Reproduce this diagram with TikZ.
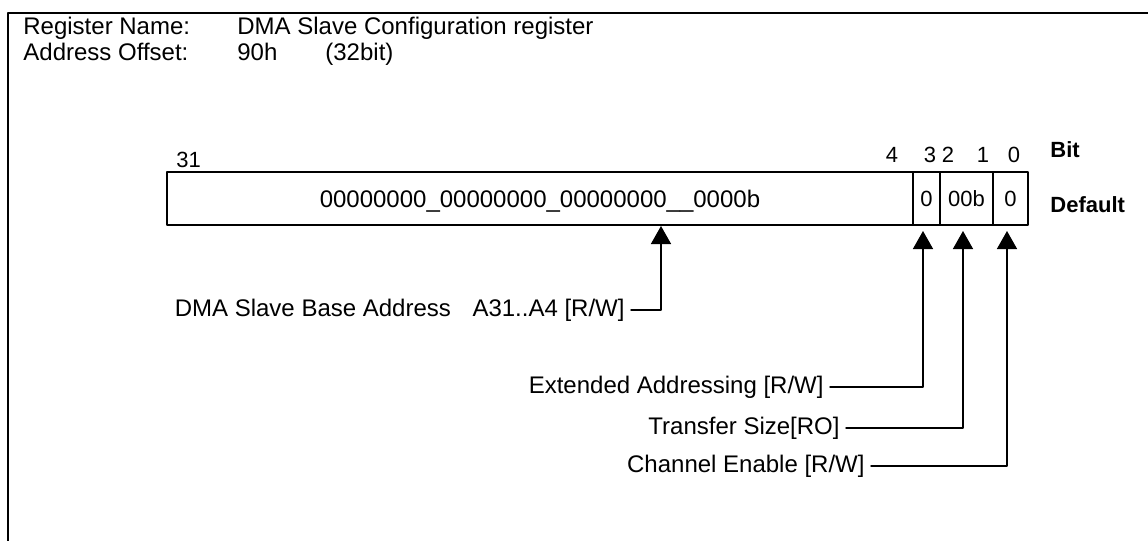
\documentclass[tikz,border=0pt]{standalone}
\usepackage{fontspec}
\setmainfont{Liberation Sans}
\usetikzlibrary{positioning,arrows.meta}
\tikzset{
    lab/.style={
        font=\fontsize{12}{14}\selectfont
    }
}

\begin{document}
\begin{tikzpicture}[x=0.5pt,y=-0.5pt, line cap=round, line join=round]

\tikzset{
  frame/.style={draw=black, line width=1pt},
  cell/.style={draw=black, line width=1pt, rectangle, inner sep=0pt, outer sep=0pt, minimum height=26.5pt, font=\fontsize{11}{13}\selectfont, text height=7.9pt, text depth=0pt},
  bitno/.style={font=\fontsize{11}{13}\selectfont, inner sep=0pt, anchor=base},
  side/.style={font=\bfseries\fontsize{11}{13}\selectfont, inner sep=0pt, anchor=base west},
  hdr/.style={lab, inner sep=0pt, anchor=base west},
  wire/.style={draw=black, line width=0.75pt, -{Triangle[width=10pt,length=9pt]}},
}

\useasboundingbox (0,0) rectangle (1148,541);

% frame, top and left edge only
\draw[frame] (8,541) -- (8,13) -- (1148,13);

% header
\node[hdr] (tname) at (23,34) {Register Name:};
\node[hdr] (vname) at (237,34) {DMA Slave Configuration register};
\node[hdr] (toff) at (23,60) {Address Offset:};
\node[hdr] (voff) at (237,60) {90h};
\node[hdr] (vwid) at (325,60) {(32bit)};

% register fields
\node[cell, anchor=north west, minimum width=373pt, font=\fontsize{12}{14}\selectfont, text height=8.6pt] (fbase) at (167,172) {00000000\_00000000\_00000000\_\_0000b};
\node[cell, right=0pt of fbase, minimum width=13.5pt] (fext) {0};
\node[cell, right=0pt of fext, minimum width=26.5pt] (fsize) {00b};
\node[cell, right=0pt of fsize, minimum width=17.5pt] (fen) {0};

% bit numbers
\node[bitno, anchor=base west] (b31) at (176,167) {31};
\node[bitno] (b4) at (892,162) {4};
\node[bitno] (b3) at (930,162) {3};
\node[bitno] (b2) at (948,162) {2};
\node[bitno] (b1) at (983,162) {1};
\node[bitno] (b0) at (1014,162) {0};

\node[side] (tbit) at (1050,157) {Bit};
\node[side] (tdef) at (1050,212) {Default};

% arrow tips under the fields
\coordinate (pbase) at (661,226);
\coordinate (pext) at (923,231);
\coordinate (psize) at (963,231);
\coordinate (pen) at (1007,231);

% field descriptions
\node[lab, anchor=east, inner sep=3pt] (lbase) at (631,310) {DMA Slave Base Address\hspace{0.9em}A31..A4 [R/W]};
\node[lab, anchor=east, inner sep=3pt] (lext) at (830,387) {Extended Addressing [R/W]};
\node[lab, anchor=east, inner sep=3pt] (lsize) at (846,428) {Transfer Size[RO]};
\node[lab, anchor=east, inner sep=3pt] (len) at (871,466) {Channel Enable [R/W]};

\draw[wire] (lbase.east) -| (pbase);
\draw[wire] (lext.east) -| (pext);
\draw[wire] (lsize.east) -| (psize);
\draw[wire] (len.east) -| (pen);

\end{tikzpicture}
\end{document}
